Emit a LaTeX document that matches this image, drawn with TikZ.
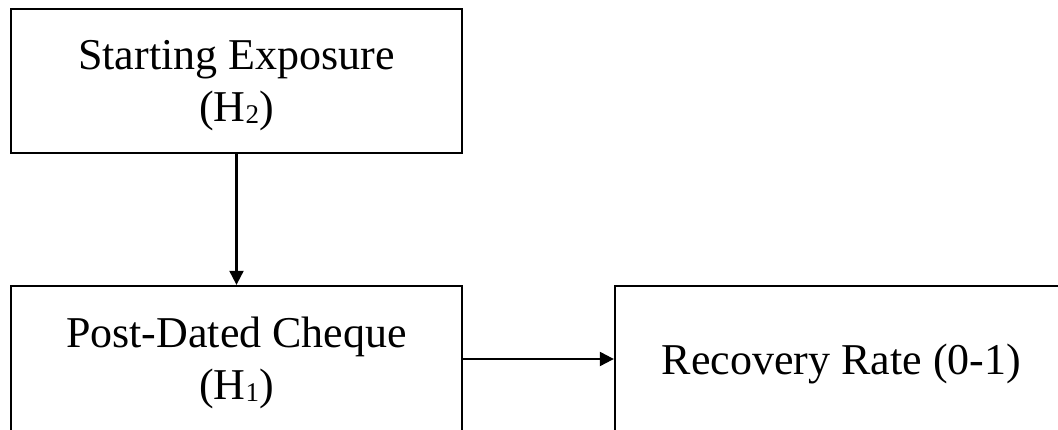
\documentclass[tikz,border=0pt]{standalone}
\usepackage{fontspec}
\setmainfont{Liberation Serif}
\usetikzlibrary{arrows.meta}
\newcommand{\subdig}[1]{\raisebox{-1.5pt}{\fontsize{27}{27}\selectfont #1}}
\tikzset{
  boxnode/.style={draw=black, line width=2.3pt, inner sep=0pt, fill=none},
  txt/.style={inner sep=0pt, align=center, font=\fontsize{44}{52}\selectfont, text=black},
  conn/.style={draw=black, line width=2.1pt, -{Triangle[length=14pt,width=14pt]}}
}
\begin{document}
\begin{tikzpicture}[x=1pt,y=-1pt]
\useasboundingbox (0,0) rectangle (1058,430);
\clip (0,0) rectangle (1058,430);
\fill[white] (0,0) rectangle (1058,430);
% boxes
\node[boxnode, minimum width=451pt, minimum height=144pt] (se) at (236.5,81) {};
\node[boxnode, minimum width=451pt, minimum height=146pt] (pdc) at (236.5,359) {};
\node[boxnode, minimum width=451pt, minimum height=146pt] (rr) at (840.5,359) {};
% texts
\node[txt] (setxt) at (236.5,86) {Starting Exposure\\(H\subdig{2})};
\node[txt] (pdctxt) at (236.5,363) {Post-Dated Cheque\\(H\subdig{1})};
\node[txt] (rrtxt) at (841.5,364) {Recovery Rate (0-1)};
% connectors
\draw[conn] (se.south) -- (pdc.north);
\draw[conn] (pdc.east) -- (rr.west);
\end{tikzpicture}
\end{document}
